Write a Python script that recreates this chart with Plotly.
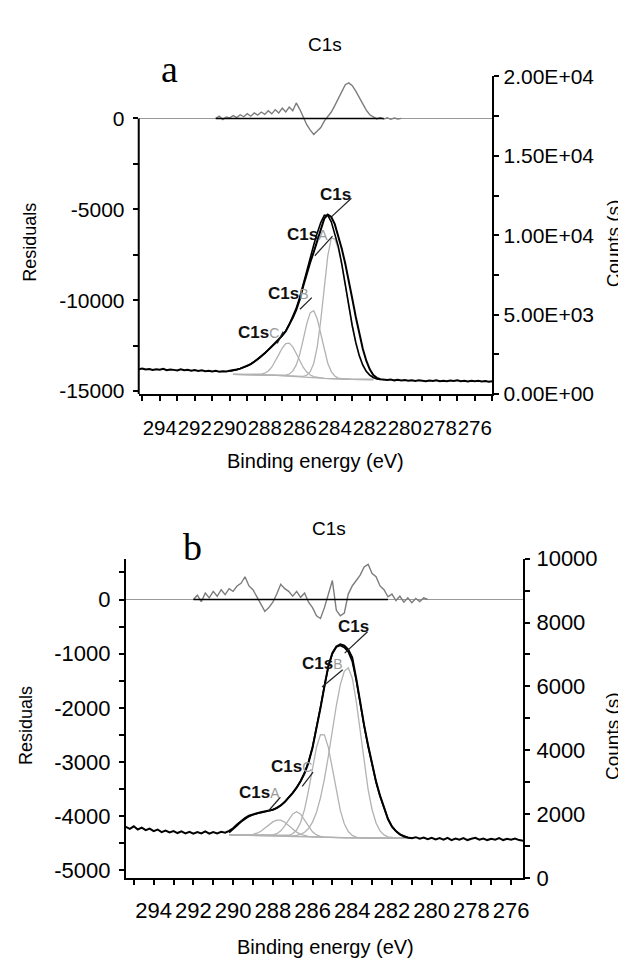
import plotly.graph_objects as go

W, H = 626, 961

# ------------------------------------------------------------------ panel a
energy_a = [295.2, 295.0, 294.8, 294.6, 294.4, 294.2, 294.0, 293.8, 293.6, 293.4,
            293.2, 293.0, 292.8, 292.6, 292.4, 292.2, 292.0, 291.8, 291.6, 291.4,
            291.2, 291.0, 290.8, 290.6, 290.4, 290.2, 290.0, 289.8, 289.6, 289.4,
            289.2, 289.0, 288.8, 288.6, 288.4, 288.2, 288.0, 287.8, 287.6, 287.4,
            287.2, 287.0, 286.8, 286.6, 286.4, 286.2, 286.0, 285.8, 285.6, 285.4,
            285.2, 285.0, 284.8, 284.6, 284.4, 284.2, 284.0, 283.8, 283.6, 283.4,
            283.2, 283.0, 282.8, 282.6, 282.4, 282.2, 282.0, 281.8, 281.6, 281.4,
            281.2, 281.0, 280.8, 280.6, 280.4, 280.2, 280.0, 279.8, 279.6, 279.4,
            279.2, 279.0, 278.8, 278.6, 278.4, 278.2, 278.0, 277.8, 277.6, 277.4,
            277.2, 277.0, 276.8, 276.6, 276.4, 276.2, 276.0, 275.8, 275.6, 275.4,
            275.2, 275.0]
counts_a = [1560, 1610, 1540, 1580, 1520, 1560, 1530, 1590, 1500, 1550,
            1520, 1480, 1560, 1500, 1530, 1470, 1510, 1450, 1490, 1430,
            1470, 1420, 1460, 1410, 1440, 1420, 1460, 1480, 1540, 1600,
            1680, 1760, 1880, 2030, 2200, 2380, 2560, 2780, 2990, 3200,
            3420, 3680, 3950, 4350, 4800, 5300, 5950, 6800, 7600, 8300,
            8950, 9700, 10450, 11050, 11300, 11150, 10700, 10000, 9150, 8200,
            7200, 6000, 4850, 3800, 2850, 2100, 1550, 1200, 1020, 930,
            900, 880, 910, 860, 890, 850, 880, 830, 870, 820,
            860, 840, 800, 850, 820, 870, 810, 840, 800, 850,
            820, 860, 810, 830, 790, 840, 800, 830, 790, 820,
            780, 800]

fit_energy_a = [290.0, 289.8, 289.6, 289.4, 289.2, 289.0, 288.8, 288.6, 288.4, 288.2,
                288.0, 287.8, 287.6, 287.4, 287.2, 287.0, 286.8, 286.6, 286.4, 286.2,
                286.0, 285.8, 285.6, 285.4, 285.2, 285.0, 284.8, 284.6, 284.4, 284.2,
                284.0, 283.8, 283.6, 283.4, 283.2, 283.0, 282.8, 282.6, 282.4, 282.2,
                282.0, 281.8, 281.6, 281.4]
fit_a = [1440, 1470, 1530, 1600, 1680, 1770, 1890, 2030, 2190, 2370,
         2560, 2760, 2970, 3190, 3420, 3680, 3980, 4380, 4850, 5420,
         6100, 6950, 7850, 8650, 9400, 10150, 10800, 11250, 11250, 10850,
         10100, 9300, 8200, 6900, 5550, 4300, 3250, 2420, 1830, 1430,
         1190, 1040, 950, 910]

comp_energy_a = [289.8, 289.6, 289.4, 289.2, 289.0, 288.8, 288.6, 288.4, 288.2, 288.0,
                 287.8, 287.6, 287.4, 287.2, 287.0, 286.8, 286.6, 286.4, 286.2, 286.0,
                 285.8, 285.6, 285.4, 285.2, 285.0, 284.8, 284.6, 284.4, 284.2, 284.0,
                 283.8, 283.6, 283.4, 283.2, 283.0, 282.8, 282.6, 282.4, 282.2, 282.0,
                 281.8]
bg_a = [1240, 1240, 1240, 1235, 1230, 1225, 1220, 1215, 1210, 1200,
        1195, 1190, 1180, 1170, 1160, 1150, 1140, 1125, 1110, 1095,
        1080, 1065, 1050, 1035, 1020, 1005, 990, 975, 965, 955,
        945, 940, 935, 930, 925, 925, 920, 920, 920, 915,
        915]
c1sC_a = [1240, 1240, 1240, 1235, 1230, 1225, 1224, 1230, 1254, 1312,
          1447, 1687, 2041, 2478, 2897, 3172, 3203, 2970, 2554, 2085,
          1675, 1379, 1196, 1093, 1040, 1011, 990, 975, 965, 955,
          945, 940, 935, 930, 925, 925, 920, 920, 920, 915,
          915]
c1sB_a = [1240, 1240, 1240, 1235, 1230, 1225, 1220, 1215, 1210, 1200,
          1195, 1190, 1180, 1170, 1168, 1188, 1259, 1439, 1835, 2515,
          3446, 4432, 5125, 5245, 4722, 3782, 2762, 1942, 1414, 1133,
          1004, 957, 939, 930, 925, 925, 920, 920, 920, 915,
          915]
c1sA_a = [1240, 1240, 1240, 1235, 1230, 1225, 1220, 1215, 1210, 1200,
          1195, 1190, 1180, 1170, 1160, 1150, 1140, 1125, 1110, 1105,
          1116, 1181, 1408, 1938, 2987, 4644, 6738, 8699, 9816, 9779,
          9152, 8119, 6826, 5480, 4224, 3169, 2359, 1787, 1403, 1174,
          1040]

resid_energy_a = [290.8, 290.6, 290.4, 290.2, 290.0, 289.8, 289.6, 289.4, 289.2, 289.0,
                  288.8, 288.6, 288.4, 288.2, 288.0, 287.8, 287.6, 287.4, 287.2, 287.0,
                  286.8, 286.6, 286.4, 286.2, 286.0, 285.8, 285.6, 285.4, 285.2, 285.0,
                  284.8, 284.6, 284.4, 284.2, 284.0, 283.8, 283.6, 283.4, 283.2, 283.0,
                  282.8, 282.6, 282.4, 282.2, 282.0, 281.8, 281.6, 281.4, 281.2, 281.0,
                  280.8, 280.6, 280.4, 280.2]
resid_a = [0, 120, -60, 80, 30, 150, 40, 200, 90, 260,
           120, 300, 180, 350, 220, 420, 250, 480, 300, 560,
           350, 620, 420, 850, 500, 50, -350, -650, -880, -700,
           -500, -150, 100, 350, 700, 1100, 1500, 1850, 1950, 1800,
           1500, 1150, 800, 450, 200, 80, -30, 50, -40, 30,
           -50, 20, -30, 0]
resid_span_a = [290.8, 281.2]

# ------------------------------------------------------------------ panel b
energy_b = [295.4, 295.2, 295.0, 294.8, 294.6, 294.4, 294.2, 294.0, 293.8, 293.6,
            293.4, 293.2, 293.0, 292.8, 292.6, 292.4, 292.2, 292.0, 291.8, 291.6,
            291.4, 291.2, 291.0, 290.8, 290.6, 290.4, 290.2, 290.0, 289.8, 289.6,
            289.4, 289.2, 289.0, 288.8, 288.6, 288.4, 288.2, 288.0, 287.8, 287.6,
            287.4, 287.2, 287.0, 286.8, 286.6, 286.4, 286.2, 286.0, 285.8, 285.6,
            285.4, 285.2, 285.0, 284.8, 284.6, 284.4, 284.2, 284.0, 283.8, 283.6,
            283.4, 283.2, 283.0, 282.8, 282.6, 282.4, 282.2, 282.0, 281.8, 281.6,
            281.4, 281.2, 281.0, 280.8, 280.6, 280.4, 280.2, 280.0, 279.8, 279.6,
            279.4, 279.2, 279.0, 278.8, 278.6, 278.4, 278.2, 278.0, 277.8, 277.6,
            277.4, 277.2, 277.0, 276.8, 276.6, 276.4, 276.2, 276.0, 275.8, 275.6,
            275.4]
counts_b = [1600, 1540, 1620, 1520, 1580, 1500, 1550, 1470, 1520, 1440,
            1490, 1430, 1470, 1410, 1460, 1400, 1450, 1390, 1440, 1400,
            1460, 1390, 1440, 1400, 1450, 1420, 1480, 1560, 1680, 1790,
            1880, 1950, 2000, 2030, 2060, 2080, 2100, 2140, 2190, 2270,
            2380, 2510, 2660, 2830, 3030, 3280, 3620, 4080, 4650, 5320,
            6000, 6650, 7050, 7250, 7320, 7280, 7150, 6900, 6250, 5450,
            4780, 4150, 3580, 3020, 2580, 2180, 1850, 1610, 1470, 1370,
            1300, 1270, 1250, 1280, 1230, 1270, 1220, 1260, 1210, 1250,
            1200, 1260, 1190, 1240, 1200, 1250, 1190, 1230, 1260, 1200,
            1240, 1190, 1230, 1200, 1250, 1190, 1230, 1200, 1240, 1190,
            1170]

comp_energy_b = [290.2, 290.0, 289.8, 289.6, 289.4, 289.2, 289.0, 288.8, 288.6, 288.4,
                 288.2, 288.0, 287.8, 287.6, 287.4, 287.2, 287.0, 286.8, 286.6, 286.4,
                 286.2, 286.0, 285.8, 285.6, 285.4, 285.2, 285.0, 284.8, 284.6, 284.4,
                 284.2, 284.0, 283.8, 283.6, 283.4, 283.2, 283.0, 282.8, 282.6, 282.4,
                 282.2, 282.0, 281.8, 281.6, 281.4, 281.2, 281.0]
fit_b = [1420, 1520, 1640, 1760, 1860, 1930, 1980, 2020, 2050, 2075,
         2100, 2140, 2200, 2280, 2390, 2520, 2670, 2840, 3040, 3300,
         3640, 4100, 4680, 5350, 6020, 6620, 7020, 7230, 7280, 7220,
         7080, 6780, 6200, 5450, 4760, 4120, 3560, 3000, 2560, 2170,
         1850, 1620, 1470, 1370, 1310, 1270, 1250]
bg_b = [1350, 1348, 1346, 1344, 1342, 1340, 1338, 1336, 1334, 1332,
        1330, 1327, 1324, 1321, 1318, 1314, 1310, 1306, 1302, 1298,
        1294, 1290, 1286, 1282, 1278, 1274, 1270, 1267, 1264, 1261,
        1258, 1256, 1254, 1252, 1250, 1250, 1250, 1250, 1250, 1250,
        1250, 1250, 1250, 1250, 1250, 1250, 1250]
c1sA_b = [1350, 1348, 1346, 1344, 1346, 1352, 1369, 1404, 1465, 1554,
          1661, 1758, 1816, 1813, 1749, 1645, 1532, 1437, 1370, 1329,
          1306, 1294, 1286, 1282, 1278, 1274, 1270, 1267, 1264, 1261,
          1258, 1256, 1254, 1252, 1250, 1250, 1250, 1250, 1250, 1250,
          1250, 1250, 1250, 1250, 1250, 1250, 1250]
c1sC_b = [1350, 1348, 1346, 1344, 1342, 1340, 1338, 1336, 1334, 1332,
          1336, 1349, 1389, 1480, 1635, 1833, 2007, 2076, 1999, 1817,
          1611, 1449, 1351, 1304, 1284, 1274, 1270, 1267, 1264, 1261,
          1258, 1256, 1254, 1252, 1250, 1250, 1250, 1250, 1250, 1250,
          1250, 1250, 1250, 1250, 1250, 1250, 1250]
c1sD_b = [1350, 1348, 1346, 1344, 1342, 1340, 1338, 1336, 1334, 1332,
          1330, 1327, 1324, 1321, 1326, 1340, 1388, 1505, 1742, 2152,
          2745, 3445, 4096, 4490, 4486, 4084, 3425, 2718, 2118, 1701,
          1457, 1334, 1280, 1260, 1250, 1250, 1250, 1250, 1250, 1250,
          1250, 1250, 1250, 1250, 1250, 1250, 1250]
c1sB_b = [1350, 1348, 1346, 1344, 1342, 1340, 1338, 1336, 1334, 1332,
          1330, 1327, 1324, 1321, 1318, 1314, 1323, 1336, 1368, 1432,
          1551, 1752, 2063, 2512, 3108, 3829, 4623, 5402, 6054, 6472,
          6582, 6263, 5537, 4584, 3609, 2769, 2139, 1724, 1479, 1351,
          1290, 1265, 1255, 1250, 1250, 1250, 1250]

resid_energy_b = [292.0, 291.8, 291.6, 291.4, 291.2, 291.0, 290.8, 290.6, 290.4, 290.2,
                  290.0, 289.8, 289.6, 289.4, 289.2, 289.0, 288.8, 288.6, 288.4, 288.2,
                  288.0, 287.8, 287.6, 287.4, 287.2, 287.0, 286.8, 286.6, 286.4, 286.2,
                  286.0, 285.8, 285.6, 285.4, 285.2, 285.0, 284.8, 284.6, 284.4, 284.2,
                  284.0, 283.8, 283.6, 283.4, 283.2, 283.0, 282.8, 282.6, 282.4, 282.2,
                  282.0, 281.8, 281.6, 281.4, 281.2, 281.0, 280.8, 280.6, 280.4, 280.2]
resid_b = [0, 80, -40, 120, 30, 150, 60, 180, 90, 200,
           150, 250, 300, 420, 250, 180, 50, -100, -220, -150,
           -50, 100, 280, 200, 150, 60, 150, 40, 120, -50,
           -150, -300, -350, -150, 100, 350, -200, -300, -250, 100,
           250, 350, 450, 600, 650, 480, 420, 250, 180, 50,
           100, -20, 60, -50, 30, -60, 20, -40, 30, 0]
resid_span_b = [292.0, 282.2]

# ------------------------------------------------------------------ ticks / labels
x_major = [294, 292, 290, 288, 286, 284, 282, 280, 278, 276]
x_major_text = ["294", "292", "290", "288", "286", "284", "282", "280", "278", "276"]
x_minor = [295, 293, 291, 289, 287, 285, 283, 281, 279, 277, 275]

ya_right_vals = [0, 5000, 10000, 15000, 20000]
ya_right_text = ["0.00E+00", "5.00E+03", "1.00E+04", "1.50E+04", "2.00E+04"]
ya_right_minor = [2500, 7500, 12500, 17500]
ya_left_vals = [0, -5000, -10000, -15000]
ya_left_minor = [-2500, -7500, -12500]

yb_right_vals = [0, 2000, 4000, 6000, 8000, 10000]
yb_right_minor = [1000, 3000, 5000, 7000, 9000]
yb_left_vals = [0, -1000, -2000, -3000, -4000, -5000]
yb_left_minor = [500, -500, -1500, -2500, -3500, -4500]

# peak labels: (text, letter, label E, label counts, leader E0, C0, E1, C1)
labels_a = [("C1s", "", 283.96, 12580, 283.05, 12330, 284.18, 11170),
            ("C1s", "A", 285.54, 10060, 284.13, 9940, 285.14, 8710),
            ("C1s", "B", 286.67, 6320, 285.31, 6070, 285.99, 5340),
            ("C1s", "C", 288.36, 3870, 286.95, 3930, 287.29, 3190)]
labels_b = [("C1s", "", 283.93, 7870, 283.23, 7710, 284.38, 7040),
            ("C1s", "B", 285.52, 6710, 284.48, 6520, 285.52, 5980),
            ("C1s", "C", 287.07, 3480, 285.97, 3320, 286.52, 2870),
            ("C1s", "A", 288.67, 2680, 287.62, 2530, 288.22, 2100)]

# ------------------------------------------------------------------ figure
SANS = "Liberation Sans, Arial, Helvetica, sans-serif"
SERIF = "Liberation Serif, Times New Roman, serif"
GREY_C = "#b2b2b2"
GREY_R = "#7c7c7c"


def pxx(v):
    return v / W


def pxy(v):
    return 1 - v / H


fig = go.Figure()


def line(x, y, xa, ya, color, width):
    fig.add_trace(go.Scatter(x=x, y=y, xaxis=xa, yaxis=ya, mode="lines",
                             line=dict(color=color, width=width),
                             hoverinfo="skip", showlegend=False))


# panel a
line(resid_energy_a, resid_a, "x", "y2", GREY_R, 1.4)
line(resid_span_a, [0] * len(resid_span_a), "x", "y2", "black", 1.5)
line(comp_energy_a, bg_a, "x", "y", GREY_C, 1.3)
line(comp_energy_a, c1sC_a, "x", "y", GREY_C, 1.3)
line(comp_energy_a, c1sB_a, "x", "y", GREY_C, 1.3)
line(comp_energy_a, c1sA_a, "x", "y", GREY_C, 1.3)
line(fit_energy_a, fit_a, "x", "y", "black", 1.6)
line(energy_a, counts_a, "x", "y", "black", 2.0)

# panel b
line(resid_energy_b, resid_b, "x2", "y4", GREY_R, 1.4)
line(resid_span_b, [0] * len(resid_span_b), "x2", "y4", "black", 1.5)
line(comp_energy_b, bg_b, "x2", "y3", GREY_C, 1.3)
line(comp_energy_b, c1sA_b, "x2", "y3", GREY_C, 1.3)
line(comp_energy_b, c1sC_b, "x2", "y3", GREY_C, 1.3)
line(comp_energy_b, c1sD_b, "x2", "y3", GREY_C, 1.3)
line(comp_energy_b, c1sB_b, "x2", "y3", GREY_C, 1.3)
line(comp_energy_b, fit_b, "x2", "y3", "black", 1.6)
line(energy_b, counts_b, "x2", "y3", "black", 2.0)

TF = dict(family=SANS, size=21, color="black")
TFX = dict(family=SANS, size=20.5, color="black")
TFB = dict(family=SANS, size=22, color="black")
base = dict(showgrid=False, zeroline=False, tickcolor="black", tickwidth=1.5,
            ticklen=5, linecolor="black", linewidth=2, tickangle=0)


def minor(vals, side):
    return dict(tickvals=vals, ticks=side, ticklen=5, tickwidth=1.5, tickcolor="black")


dom_xa = [pxx(132), pxx(489)]
dom_ya = [pxy(384), pxy(58)]
dom_xb = [pxx(119), pxx(520)]
dom_yb = [pxy(881), pxy(553)]
rng_xa = [295.2, 275.0]
rng_xb = [295.4, 275.4]
rng_ya_l = [-15161, 2304]
rng_yb_l = [-5144, 755]

fig.update_layout(
    width=W, height=H, margin=dict(l=0, r=0, t=0, b=0),
    paper_bgcolor="white", plot_bgcolor="rgba(0,0,0,0)", showlegend=False,
    # ---- panel a
    xaxis=dict(base, domain=dom_xa, anchor="y", range=rng_xa, showline=True,
               ticks="outside", tickvals=x_major, ticktext=x_major_text,
               minor=minor(x_minor, "outside"), tickfont=TFX, ticklabelstandoff=9),
    xaxis3=dict(base, domain=dom_xa, anchor="y", overlaying="x", range=rng_xa,
                showline=False, ticks="inside", tickvals=x_major,
                showticklabels=False, minor=minor(x_minor, "inside")),
    yaxis=dict(base, domain=dom_ya, anchor="x", side="right", range=[0, 20000],
               showline=True, ticks="outside", tickvals=ya_right_vals,
               ticktext=ya_right_text, minor=minor(ya_right_minor, "outside"),
               tickfont=TF),
    yaxis5=dict(base, anchor="x", overlaying="y", side="right", range=[0, 20000],
                showline=False, ticks="inside", tickvals=ya_right_vals,
                showticklabels=False, minor=minor(ya_right_minor, "inside")),
    yaxis2=dict(base, anchor="x", overlaying="y", side="left", range=rng_ya_l,
                showline=False, ticks="outside", tickvals=ya_left_vals,
                ticktext=[str(v) for v in ya_left_vals],
                minor=minor(ya_left_minor, "outside"), tickfont=TF,
                ticklabelstandoff=4),
    yaxis6=dict(base, anchor="x", overlaying="y", side="left", range=rng_ya_l,
                showline=False, ticks="inside", tickvals=ya_left_vals,
                showticklabels=False, minor=minor(ya_left_minor, "inside")),
    # ---- panel b
    xaxis2=dict(base, domain=dom_xb, anchor="y3", range=rng_xb, showline=True,
                ticks="outside", tickvals=x_major, ticktext=x_major_text,
                minor=minor(x_minor, "outside"), tickfont=TFB, ticklabelstandoff=7),
    xaxis4=dict(base, domain=dom_xb, anchor="y3", overlaying="x2", range=rng_xb,
                showline=False, ticks="inside", tickvals=x_major,
                showticklabels=False, minor=minor(x_minor, "inside")),
    yaxis3=dict(base, domain=dom_yb, anchor="x2", side="right", range=[0, 10000],
                showline=True, ticks="outside", tickvals=yb_right_vals,
                ticktext=[str(v) for v in yb_right_vals],
                minor=minor(yb_right_minor, "outside"), tickfont=TFB,
                ticklabelstandoff=2),
    yaxis7=dict(base, anchor="x2", overlaying="y3", side="right", range=[0, 10000],
                showline=False, ticks="inside", tickvals=yb_right_vals,
                showticklabels=False, minor=minor(yb_right_minor, "inside")),
    yaxis4=dict(base, anchor="x2", overlaying="y3", side="left", range=rng_yb_l,
                showline=True, ticks="outside", tickvals=yb_left_vals,
                ticktext=[str(v) for v in yb_left_vals],
                minor=minor(yb_left_minor, "outside"), tickfont=TFB,
                ticklabelstandoff=4),
    yaxis8=dict(base, anchor="x2", overlaying="y3", side="left", range=rng_yb_l,
                showline=False, ticks="inside", tickvals=yb_left_vals,
                showticklabels=False, minor=minor(yb_left_minor, "inside")),
)

# zero lines of the residual axes (grey, full width)
fig.update_layout(yaxis2=dict(zeroline=True, zerolinecolor="#9a9a9a", zerolinewidth=1.2),
                  yaxis4=dict(zeroline=True, zerolinecolor="#9a9a9a", zerolinewidth=1.2))

shapes = []
# left residual axis of panel a runs from 0 downward only
shapes.append(dict(type="line", xref="x domain", x0=0, x1=0, yref="y2",
                   y0=0, y1=rng_ya_l[0], line=dict(color="black", width=2)))

ann = []


def paper_text(text, x, y, size, family=SANS, angle=0):
    ann.append(dict(text=text, x=pxx(x), y=pxy(y), xref="paper", yref="paper",
                    showarrow=False, xanchor="center", yanchor="middle",
                    textangle=angle, font=dict(family=family, size=size, color="black")))


paper_text("C1s", 320, 25, 19)
paper_text("C1s", 324, 522, 19)
paper_text("a", 163, 50, 38, SERIF)
paper_text("b", 186, 541, 38, SERIF)
paper_text("Residuals", 22, 228, 18, angle=-90)
paper_text("Residuals", 18, 724, 18, angle=-90)
paper_text("Counts (s)", 611, 229, 19, angle=-90)
paper_text("Counts (s)", 611, 735, 19, angle=-90)
paper_text("Binding energy (eV)", 310, 453, 20)
paper_text("Binding energy (eV)", 321, 952, 20)


def peak_labels(labels, xr, yr):
    for txt, letter, ex, cy, e0, c0, e1, c1 in labels:
        t = "<b>%s</b>" % txt
        if letter:
            t += "<span style='color:#9a9a9a;font-size:14px'>%s</span>" % letter
        ann.append(dict(text=t, x=ex, y=cy, xref=xr, yref=yr, showarrow=False,
                        xanchor="center", yanchor="middle",
                        font=dict(family=SANS, size=17, color="#111111")))
        shapes.append(dict(type="line", xref=xr, yref=yr, x0=e0, y0=c0, x1=e1, y1=c1,
                           line=dict(color="#222222", width=1.2)))


peak_labels(labels_a, "x", "y")
peak_labels(labels_b, "x2", "y3")

fig.update_layout(annotations=ann, shapes=shapes)
fig.write_html("out.html")
